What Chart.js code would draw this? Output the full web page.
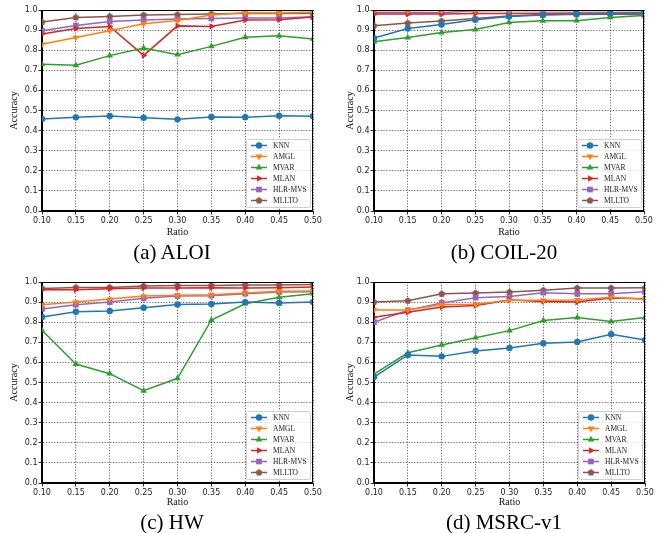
<!DOCTYPE html>
<html>
<head>
<meta charset="utf-8">
<script src="https://cdn.jsdelivr.net/npm/chart.js@4"></script>
<style>
  html, body { margin: 0; padding: 0; background: #fff; }
  #wrap { position: relative; width: 667px; height: 533px; overflow: hidden; background: #fff; }
  canvas { position: absolute; }
  .cap { position: absolute; font-family: "Liberation Serif", "Times New Roman", serif; font-size: 21px; color: #000; white-space: nowrap; transform: translate(-50%, -50%); }
</style>
</head>
<body>
<div id="wrap">
  <canvas id="cA" width="333" height="240" style="left:0px;top:0px;width:333px;height:240px"></canvas>
  <canvas id="cB" width="334" height="240" style="left:333px;top:0px;width:334px;height:240px"></canvas>
  <canvas id="cC" width="333" height="240" style="left:0px;top:270px;width:333px;height:240px"></canvas>
  <canvas id="cD" width="334" height="240" style="left:333px;top:270px;width:334px;height:240px"></canvas>
  <div class="cap" style="left:172px;top:252px">(a) ALOI</div>
  <div class="cap" style="left:504px;top:252px">(b) COIL-20</div>
  <div class="cap" style="left:172px;top:522px">(c) HW</div>
  <div class="cap" style="left:504px;top:522px">(d) MSRC-v1</div>
</div>
<script>
// ---- data ----
const ratios = ['0.10','0.15','0.20','0.25','0.30','0.35','0.40','0.45','0.50'];
const methods = ['KNN','AMGL','MVAR','MLAN','HLR-MVS','MLLTO'];

const aloiKNN   = [0.458,0.466,0.473,0.464,0.456,0.468,0.467,0.474,0.472];
const aloiAMGL  = [0.829,0.863,0.897,0.932,0.948,0.975,0.986,0.985,0.990];
const aloiMVAR  = [0.730,0.725,0.773,0.811,0.778,0.819,0.864,0.872,0.856];
const aloiMLAN  = [0.880,0.908,0.918,0.774,0.921,0.918,0.950,0.952,0.965];
const aloiHLR   = [0.897,0.923,0.943,0.950,0.955,0.958,0.960,0.960,0.966];
const aloiMLLTO = [0.940,0.963,0.968,0.975,0.977,0.980,0.984,0.982,0.984];

const coilKNN   = [0.860,0.908,0.928,0.951,0.968,0.975,0.980,0.983,0.987];
const coilAMGL  = [0.996,0.996,0.997,0.997,0.997,0.997,0.998,0.998,0.998];
const coilMVAR  = [0.842,0.863,0.888,0.903,0.938,0.946,0.947,0.963,0.973];
const coilMLAN  = [0.980,0.980,0.980,0.983,0.983,0.984,0.985,0.985,0.985];
const coilHLR   = [0.986,0.986,0.986,0.996,0.997,0.998,0.998,0.998,0.998];
const coilMLLTO = [0.922,0.935,0.945,0.958,0.970,0.977,0.978,0.979,0.978];

const hwKNN   = [0.826,0.852,0.856,0.872,0.888,0.891,0.900,0.896,0.900];
const hwAMGL  = [0.887,0.900,0.915,0.930,0.934,0.937,0.945,0.954,0.955];
const hwMVAR  = [0.760,0.592,0.544,0.459,0.521,0.811,0.892,0.924,0.942];
const hwMLAN  = [0.962,0.962,0.967,0.970,0.970,0.972,0.970,0.972,0.975];
const hwHLR   = [0.866,0.887,0.900,0.919,0.930,0.932,0.942,0.950,0.952];
const hwMLLTO = [0.968,0.973,0.973,0.980,0.982,0.983,0.985,0.985,0.987];

const msrcKNN   = [0.527,0.637,0.630,0.657,0.672,0.695,0.702,0.740,0.711];
const msrcAMGL  = [0.861,0.861,0.888,0.889,0.909,0.909,0.911,0.924,0.914];
const msrcMVAR  = [0.542,0.648,0.687,0.723,0.758,0.808,0.823,0.803,0.823];
const msrcMLAN  = [0.825,0.850,0.876,0.883,0.910,0.903,0.900,0.920,0.917];
const msrcHLR   = [0.800,0.860,0.896,0.922,0.928,0.947,0.941,0.942,0.951];
const msrcMLLTO = [0.900,0.907,0.941,0.945,0.950,0.959,0.970,0.970,0.971];

// ---- styles ----
const colors = ['#1f77b4','#ff7f0e','#2ca02c','#d62728','#9467bd','#8c564b'];

function pentagon(color, r) {
  const s = Math.ceil(2 * r + 2);
  const c = document.createElement('canvas');
  c.width = s; c.height = s;
  const g = c.getContext('2d');
  g.fillStyle = color;
  g.beginPath();
  for (let i = 0; i < 5; i++) {
    const a = -Math.PI / 2 + i * 2 * Math.PI / 5;
    const px = s / 2 + r * Math.cos(a), py = s / 2 + r * Math.sin(a);
    if (i === 0) g.moveTo(px, py); else g.lineTo(px, py);
  }
  g.closePath();
  g.fill();
  return c;
}

const markers = [
  { style: 'circle', radius: 3.2, rot: 0 },
  { style: 'triangle', radius: 3.8, rot: 180 },
  { style: 'triangle', radius: 3.8, rot: 0 },
  { style: 'triangle', radius: 3.8, rot: 90 },
  { style: 'rect', radius: 4.0, rot: 0 },
  { style: pentagon(colors[5], 3.6), radius: 3.6, rot: 0 }
];

function makeDatasets(series) {
  return series.map((vals, i) => ({
    label: methods[i],
    data: vals,
    borderColor: colors[i],
    backgroundColor: colors[i],
    borderWidth: 1.5,
    pointStyle: markers[i].style,
    pointRadius: markers[i].radius,
    pointRotation: markers[i].rot,
    pointBorderWidth: 0,
    pointHoverRadius: markers[i].radius,
    tension: 0,
    clip: 0
  }));
}

const framePlugin = {
  id: 'frameLegend',
  afterDraw(chart) {
    const ctx = chart.ctx, a = chart.chartArea;
    ctx.save();
    ctx.setLineDash([]);
    ctx.strokeStyle = '#000';
    ctx.lineWidth = 1;
    ctx.strokeRect(Math.round(a.left) - 0.5, Math.round(a.top) + 0.5, Math.round(a.right - a.left), Math.round(a.bottom - a.top) - 1);
    // legend
    const bw = 64, bh = 68;
    const bx = a.right - 3 - bw, by = a.bottom - 4 - bh;
    ctx.beginPath();
    if (ctx.roundRect) ctx.roundRect(bx + 0.5, by + 0.5, bw, bh, 2.5); else ctx.rect(bx + 0.5, by + 0.5, bw, bh);
    ctx.fillStyle = 'rgba(255,255,255,0.8)';
    ctx.fill();
    ctx.strokeStyle = '#d0d0d0';
    ctx.lineWidth = 1;
    ctx.stroke();
    ctx.font = '7.5px "Liberation Serif", "Times New Roman", serif';
    ctx.textBaseline = 'middle';
    chart.data.datasets.forEach((ds, i) => {
      const y = by + 6.5 + i * 11;
      ctx.strokeStyle = ds.borderColor;
      ctx.lineWidth = 1.5;
      ctx.beginPath();
      ctx.moveTo(bx + 5, y);
      ctx.lineTo(bx + 21, y);
      ctx.stroke();
      ctx.fillStyle = ds.backgroundColor;
      Chart.helpers.drawPoint(ctx, { pointStyle: ds.pointStyle, radius: ds.pointRadius, rotation: ds.pointRotation, borderWidth: 0 }, bx + 13, y);
      ctx.fillStyle = '#222';
      ctx.fillText(ds.label, bx + 27, y + 0.5);
    });
    ctx.restore();
  }
};

function makeChart(id, series, area, titlePad) {
  const el = document.getElementById(id);
  const W = el.width, H = el.height;
  const gridOpts = { color: 'rgba(0,0,0,0.75)', lineWidth: 0.8,
                     drawTicks: true, tickLength: 3.5, tickColor: '#000', tickWidth: 0.8, tickBorderDash: [] };
  const borderOpts = { display: true, color: '#000', width: 1, dash: [1.2, 1.6] };
  return new Chart(el, {
    type: 'line',
    data: { labels: ratios, datasets: makeDatasets(series) },
    options: {
      responsive: false,
      animation: false,
      events: [],
      layout: { padding: { left: 0, top: area.top, right: W - area.right, bottom: 0 } },
      plugins: { legend: { display: false }, tooltip: { enabled: false } },
      scales: {
        x: {
          type: 'category',
          offset: false,
          grid: Object.assign({ offset: false }, gridOpts),
          border: borderOpts,
          ticks: { color: '#222', font: { family: '"DejaVu Sans"', size: 8 }, padding: 1.5, maxRotation: 0, autoSkip: false },
          title: { display: true, text: 'Ratio', color: '#111', font: { family: '"Liberation Serif"', size: 10 }, padding: { top: 0, bottom: 2 } },
          afterFit: s => { s.height = H - area.bottom; }
        },
        y: {
          min: 0, max: 1,
          grid: gridOpts,
          border: borderOpts,
          ticks: { stepSize: 0.1, color: '#222', font: { family: '"DejaVu Sans"', size: 8 }, padding: 1,
                   callback: v => Number(v).toFixed(1) },
          title: { display: true, text: 'Accuracy', color: '#111', font: { family: '"Liberation Serif"', size: 10 }, padding: { top: titlePad, bottom: 0 } },
          afterFit: s => { s.width = area.left; }
        }
      }
    },
    plugins: [framePlugin]
  });
}

makeChart('cA', [aloiKNN, aloiAMGL, aloiMVAR, aloiMLAN, aloiHLR, aloiMLLTO], { left: 42, top: 10, right: 313, bottom: 211 }, 8.5);
makeChart('cB', [coilKNN, coilAMGL, coilMVAR, coilMLAN, coilHLR, coilMLLTO], { left: 41, top: 10, right: 311, bottom: 211 }, 11);
makeChart('cC', [hwKNN, hwAMGL, hwMVAR, hwMLAN, hwHLR, hwMLLTO], { left: 42, top: 12, right: 313, bottom: 213 }, 8.5);
makeChart('cD', [msrcKNN, msrcAMGL, msrcMVAR, msrcMLAN, msrcHLR, msrcMLLTO], { left: 41, top: 12, right: 312, bottom: 213 }, 11);
</script>
</body>
</html>
